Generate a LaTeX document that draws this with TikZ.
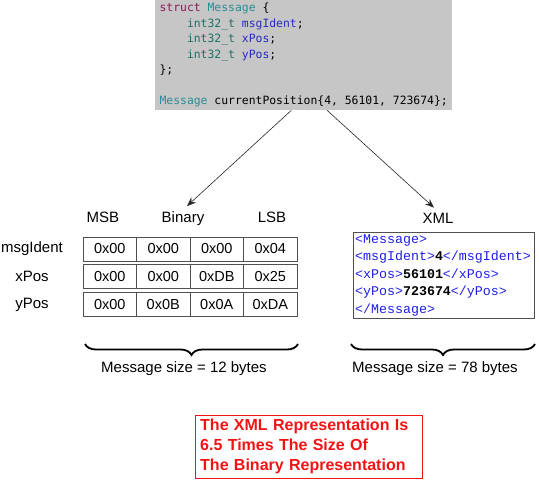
\documentclass[tikz,border=0pt]{standalone}
\usepackage{fontspec}
\setmainfont{Liberation Sans}
\newfontfamily\codefont{DejaVu Sans Mono}
\newfontfamily\xmlfont{Liberation Mono}
\usetikzlibrary{arrows.meta, decorations.pathreplacing}
\definecolor{code-gray}{HTML}{C6C6C6}
\definecolor{kw-purple}{HTML}{8B1A5A}
\definecolor{type-teal}{HTML}{2B8C96}
\definecolor{int-teal}{HTML}{1C7064}
\definecolor{id-blue}{HTML}{2828C8}
\definecolor{xml-blue}{HTML}{1E1EE6}
\definecolor{note-red}{HTML}{F21414}
\definecolor{box-gray}{HTML}{505050}
\newcommand{\kw}[1]{\textcolor{kw-purple}{#1}}
\newcommand{\ty}[1]{\textcolor{type-teal}{#1}}
\newcommand{\inttype}[1]{\textcolor{int-teal}{#1}}
\newcommand{\codeid}[1]{\textcolor{id-blue}{#1}}
\newcommand{\xtag}[1]{\textcolor{xml-blue}{#1}}
\begin{document}
\begin{tikzpicture}[x=1pt, y=-1pt,
      every node/.style={font=\fontsize{15}{18}\selectfont},
      header/.style={anchor=base},
      cell/.style={draw=box-gray, minimum width=53.5, minimum height=24,
                   inner sep=0pt, font=\fontsize{14.5}{17}\selectfont},
      codebox/.style={fill=code-gray, anchor=north west, minimum width=297,
                   minimum height=110, inner sep=2pt, align=left,
                   font=\codefont\fontsize{11.4}{15.5}\selectfont},
      xmlbox/.style={draw=box-gray, anchor=north west, minimum width=181,
                   minimum height=86, inner sep=2pt, text width=177, align=left,
                   font=\xmlfont\fontsize{13.3}{17.5}\selectfont},
      notebox/.style={draw=note-red, text=note-red, anchor=north west,
                   text width=217, inner xsep=5pt, inner ysep=3pt,
                   minimum height=63, align=left,
                   font=\bfseries\fontsize{16}{20}\selectfont},
      flowarrow/.style={-{Stealth[length=9pt, width=7pt]}, line width=0.6pt, draw=black!85},
      sizebrace/.style={decorate, decoration={brace, mirror, amplitude=11pt},
                   line width=1.8pt}]
    \useasboundingbox (0,0) rectangle (539,480);
    % source struct
    \node[codebox] (code) at (155,0) {\kw{struct} \ty{Message} \{\\
      \hphantom{0000}\inttype{int32\_t} \codeid{msgIdent};\\
      \hphantom{0000}\inttype{int32\_t} \codeid{xPos};\\
      \hphantom{0000}\inttype{int32\_t} \codeid{yPos};\\
      \};\\
      \mbox{}\\
      \ty{Message} currentPosition\{4, 56101, 723674\};};
    % binary layout
    \node[header] (msb) at (103,222.5) {MSB};
    \node[header] (binhdr) at (183,222.5) {Binary};
    \node[header] (lsb) at (272,222.5) {LSB};
    \foreach \lab [count=\r] in {msgIdent,xPos,yPos}
      \node (lbl-\r) at (32,{221+27.8*\r}) {\lab};
    \foreach \vals [count=\r] in {{0x00,0x00,0x00,0x04},{0x00,0x00,0xDB,0x25},{0x00,0x0B,0x0A,0xDA}}
      \foreach \v [count=\c] in \vals
        \node[cell] (c-\r-\c) at ({83+53.5*(\c-0.5)},{221+27.8*\r}) {\v};
    \draw[sizebrace] (85,344) -- (298,344);
    \node (binsize) at (184,369) {Message size = 12 bytes};
    % xml layout
    \node[header] (xmlhdr) at (438,223.5) {XML};
    \node[xmlbox] (xml) at (353,232) {\xtag{<Message>}\\
      \xtag{<msgIdent>}\textbf{4}\xtag{</msgIdent>}\\
      \xtag{<xPos>}\textbf{56101}\xtag{</xPos>}\\
      \xtag{<yPos>}\textbf{723674}\xtag{</yPos>}\\
      \xtag{</Message>}};
    \draw[sizebrace] (351,344) -- (535,344);
    \node (xmlsize) at (435,369) {Message size = 78 bytes};
    % arrows
    \draw[flowarrow] ([xshift=-12.5]code.south) -- ([xshift=4,yshift=2]binhdr.north);
    \draw[flowarrow] ([xshift=23.5]code.south) -- ([xshift=-4,yshift=2]xmlhdr.north);
    % conclusion
    \node[notebox] (note) at (195,415) {The XML Representation Is\\
      6.5 Times The Size Of\\
      The Binary Representation};
  \end{tikzpicture}
\end{document}
